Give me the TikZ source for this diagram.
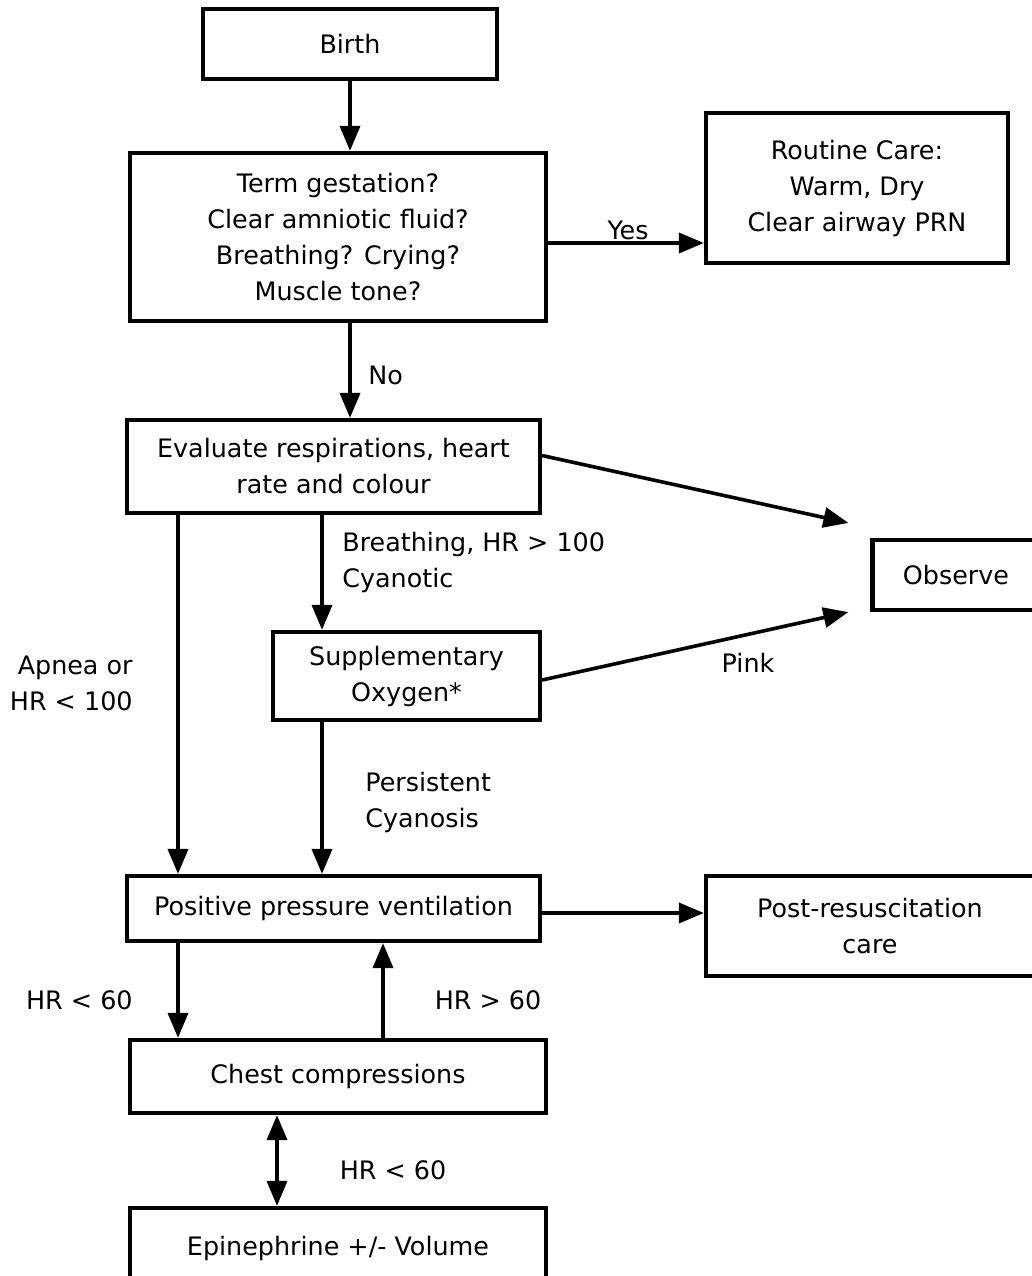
\documentclass[tikz,border=0pt]{standalone}
\usepackage{fontspec}
\setmainfont{DejaVu Sans}
\usetikzlibrary{arrows.meta}
\begin{document}
\begin{tikzpicture}[x=0.5pt,y=-0.5pt,
  box/.style={draw,line width=2.1pt,align=center,inner sep=0pt,font=\fontsize{12.7}{18}\selectfont},
  lbl/.style={inner sep=0pt,font=\fontsize{12.7}{18}\selectfont},
  arr/.style={line width=1.8pt,-{Triangle[width=10pt,length=12.5pt]}},
  dblarr/.style={line width=1.8pt,{Triangle[width=10pt,length=12.5pt]}-{Triangle[width=10pt,length=12.5pt]}}]
\useasboundingbox (0,0) rectangle (1032,1276);
% boxes
\node[box,minimum width=147pt,minimum height=35pt] (birth) at (350,44) {Birth};
\node[box,minimum width=208pt,minimum height=84pt] (term) at (338,237) {Term gestation?\\Clear amniotic fluid?\\Breathing? Crying?\\Muscle tone?};
\node[box,minimum width=151pt,minimum height=75pt] (routine) at (857,188) {Routine Care:\\Warm, Dry\\Clear airway PRN};
\node[box,minimum width=206.5pt,minimum height=46.5pt] (eval) at (333.5,466.5) {Evaluate respirations, heart\\rate and colour};
\node[box,minimum width=83.5pt,minimum height=35pt] (obs) at (956,575) {Observe};
\node[box,minimum width=133.5pt,minimum height=44pt] (supp) at (406.5,676) {Supplementary\\Oxygen*};
\node[box,minimum width=206.5pt,minimum height=32.5pt] (ppv) at (333.5,908.5) {Positive pressure ventilation};
\node[box,minimum width=164pt,minimum height=50pt] (post) at (870,926) {Post-resuscitation\\care};
\node[box,minimum width=208pt,minimum height=36.5pt] (chest) at (338,1076.5) {Chest compressions};
\node[box,minimum width=208pt,minimum height=40pt] (epi) at (338,1248) {Epinephrine +/- Volume};
% helper columns and rows
\coordinate (colA) at (178,0);
\coordinate (colB) at (322,0);
\coordinate (colC) at (350,0);
\coordinate (colD) at (383,0);
\coordinate (colE) at (277,0);
\coordinate (rowYes) at (0,243);
\coordinate (rowPost) at (0,913);
\coordinate (obsA) at ([xshift=-11pt,yshift=7.5pt]obs.north west);
\coordinate (obsB) at ([xshift=-11pt]obs.south west);
% connectors
\draw[arr] (birth.south) -- (birth.south |- term.north);
\draw[arr] (rowYes -| term.east) -- (rowYes -| routine.west);
\draw[arr] (colC |- term.south) -- (colC |- eval.north);
\draw[arr] ([yshift=5.5pt]eval.east) -- (obsA);
\draw[arr] ([yshift=-2pt]supp.east) -- (obsB);
\draw[arr] (colB |- eval.south) -- (colB |- supp.north);
\draw[arr] (colA |- eval.south) -- (colA |- ppv.north);
\draw[arr] (colB |- supp.south) -- (colB |- ppv.north);
\draw[arr] (rowPost -| ppv.east) -- (rowPost -| post.west);
\draw[arr] (colA |- ppv.south) -- (colA |- chest.north);
\draw[arr] (colD |- chest.north) -- (colD |- ppv.south);
\draw[dblarr] (colE |- chest.south) -- (colE |- epi.north);
% labels
\node[lbl] (yes) at (628,230) {Yes};
\node[lbl,anchor=west] (no) at (368,375) {No};
\node[lbl,anchor=west,align=left] (breath) at (342,562) {Breathing, HR > 100\\Cyanotic};
\node[lbl,anchor=east,align=right] (apnea) at (133,683) {Apnea or\\HR < 100};
\node[lbl] (pink) at (748,663) {Pink};
\node[lbl,anchor=west,align=left] (persist) at (365,802) {Persistent\\Cyanosis};
\node[lbl,anchor=east] (hrlow) at (133,1000) {HR < 60};
\node[lbl] (hrhigh) at (488,1000) {HR > 60};
\node[lbl] (hrepi) at (393,1170) {HR < 60};
\end{tikzpicture}
\end{document}
